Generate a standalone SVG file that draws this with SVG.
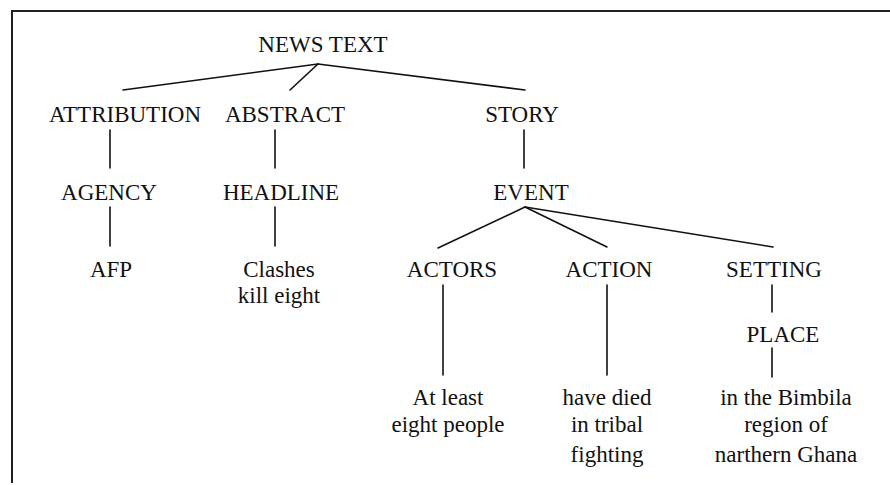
<svg xmlns="http://www.w3.org/2000/svg" width="890" height="485" viewBox="0 0 890 485">
<style>
text{font-family:'Liberation Serif','DejaVu Serif',serif;font-size:23px;fill:#111;text-anchor:middle}
.c line{stroke:#111;stroke-width:1.6;stroke-linecap:round}
.b{stroke:#222;stroke-width:2;fill:none}
</style>
<rect width="890" height="485" fill="#fff"/>
<path class="b" d="M12,483 V11 H890"/>
<g class="c" id="connectors">
<line x1="318" y1="64" x2="123" y2="90"/>
<line x1="318" y1="64" x2="290" y2="90"/>
<line x1="318" y1="64" x2="525" y2="90"/>
<line x1="110" y1="130" x2="110" y2="168"/>
<line x1="275" y1="130" x2="275" y2="168"/>
<line x1="524" y1="130" x2="524" y2="168"/>
<line x1="110" y1="207" x2="110" y2="246"/>
<line x1="275" y1="207" x2="275" y2="246"/>
<line x1="525" y1="207" x2="438" y2="248"/>
<line x1="525" y1="207" x2="607" y2="247"/>
<line x1="525" y1="207" x2="773" y2="247"/>
<line x1="443" y1="285" x2="443" y2="375"/>
<line x1="607" y1="285" x2="607" y2="375"/>
<line x1="772" y1="285" x2="772" y2="312"/>
<line x1="772" y1="348" x2="772" y2="377"/>
</g>
<g id="news-text"><text x="323" y="52">NEWS TEXT</text></g>
<g id="attribution"><text x="125" y="122">ATTRIBUTION</text></g>
<g id="abstract"><text x="285" y="122">ABSTRACT</text></g>
<g id="story"><text x="522" y="122">STORY</text></g>
<g id="agency"><text x="109" y="200">AGENCY</text></g>
<g id="headline"><text x="281" y="200">HEADLINE</text></g>
<g id="event"><text x="531" y="200">EVENT</text></g>
<g id="afp"><text x="111" y="277">AFP</text></g>
<g id="clashes"><text x="279" y="277">Clashes</text><text x="279" y="303">kill eight</text></g>
<g id="actors"><text x="452" y="277">ACTORS</text></g>
<g id="action"><text x="609" y="277">ACTION</text></g>
<g id="setting"><text x="774" y="277">SETTING</text></g>
<g id="place"><text x="783" y="342">PLACE</text></g>
<g id="actors-text"><text x="448" y="405">At least</text><text x="448" y="432">eight people</text></g>
<g id="action-text"><text x="607" y="405">have died</text><text x="607" y="432">in tribal</text><text x="607" y="462">fighting</text></g>
<g id="place-text"><text x="786" y="405">in the Bimbila</text><text x="786" y="432">region of</text><text x="786" y="462">narthern Ghana</text></g>
</svg>
